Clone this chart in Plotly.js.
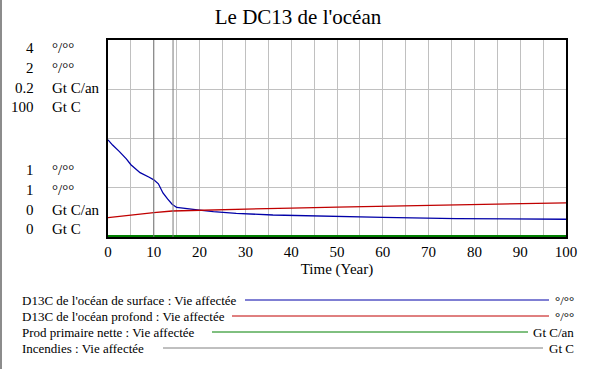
<!DOCTYPE html>
<html><head><meta charset="utf-8">
<script src="https://cdn.plot.ly/plotly-3.0.1.min.js"></script>
<style>
html,body{margin:0;padding:0;background:#fff;}
#chart{width:593px;height:369px;}
#edge{position:absolute;left:0;top:0;width:2px;height:369px;background:#8c8c8c;}
#chart text{font-family:"Liberation Serif","DejaVu Serif",serif !important;}
</style>
</head><body>
<div id="chart"></div><div id="edge"></div>
<script>
// ---- data ----
const surfaceT = [0, 1, 2.5, 4, 5, 7, 9, 10, 11, 12, 13, 14, 15, 17, 20, 23, 28, 36, 48, 60, 76, 92, 100];
const surfaceD13C = [2.48, 2.40, 2.30, 2.19, 2.10, 1.98, 1.91, 1.87, 1.81, 1.67, 1.58, 1.50, 1.45, 1.43, 1.41, 1.385, 1.36, 1.335, 1.315, 1.30, 1.28, 1.27, 1.27];
const deepT = [0, 5, 10, 14, 20, 25, 30, 40, 50, 60, 70, 80, 90, 100];
const deepD13C = [1.098, 1.112, 1.124, 1.132, 1.136, 1.140, 1.142, 1.147, 1.152, 1.156, 1.161, 1.165, 1.167, 1.173];
const prodT = [0, 100];
const prodPrimaire = [0, 0];
const fireT = [0, 100];
const incendies = [0, 0];
const markerTimes = [10, 14.2];

const seriesNames = ["D13C de l'océan de surface : Vie affectée", "D13C de l'océan profond : Vie affectée", "Prod primaire nette : Vie affectée", "Incendies : Vie affectée"];
const seriesUnits = ["°/°°", "°/°°", "Gt C/an", "Gt C"];
const seriesColors = ["#0000a8", "#c00000", "#008000", "#808080"];
const scaleTop = ["4", "2", "0.2", "100"];
const scaleBottom = ["1", "1", "0", "0"];
const xTickLabels = ["0","10","20","30","40","50","60","70","80","90","100"];

// ---- layout helpers (pixel -> paper) ----
const L = 108, R = 566, T = 40, B = 237;
const px = v => (v - L) / (R - L);
const py = v => (B - v) / (B - T);
const serif = "Liberation Serif";

const traces = [
  {x: fireT, y: incendies, yaxis: 'y3', mode: 'lines', line: {color: seriesColors[3], width: 4}, name: seriesNames[3]},
  {x: prodT, y: prodPrimaire, yaxis: 'y4', mode: 'lines', line: {color: seriesColors[2], width: 4}, name: seriesNames[2]},
  {x: deepT, y: deepD13C, yaxis: 'y2', mode: 'lines', line: {color: seriesColors[1], width: 1.3}, name: seriesNames[1]},
  {x: surfaceT, y: surfaceD13C, yaxis: 'y', mode: 'lines', line: {color: seriesColors[0], width: 1.3}, name: seriesNames[0]}
];

const annotations = [];
const shapes = [];
const topY = [48, 68, 88, 107];
const botY = [170, 190, 210, 229];
for (let i = 0; i < 4; i++) {
  [[scaleTop[i], topY[i]], [scaleBottom[i], botY[i]]].forEach(([txt, yy]) => {
    annotations.push({text: txt, xref: 'paper', yref: 'paper', x: px(36), y: py(yy), xanchor: 'right', yanchor: 'middle', showarrow: false, font: {family: serif, size: 15, color: '#000'}});
    annotations.push({text: seriesUnits[i], xref: 'paper', yref: 'paper', x: px(50), y: py(yy), xanchor: 'left', yanchor: 'middle', showarrow: false, font: {family: serif, size: 15, color: '#000'}});
  });
}
// legend rows
const legY = [300, 316, 332, 348];
const legLineX0 = [245, 232, 212, 163];
const legLineX1 = [549, 549, 528, 543];
for (let i = 0; i < 4; i++) {
  annotations.push({text: seriesNames[i], xref: 'paper', yref: 'paper', x: px(20), y: py(legY[i]), xanchor: 'left', yanchor: 'middle', showarrow: false, font: {family: serif, size: 13, color: '#000'}});
  annotations.push({text: seriesUnits[i], xref: 'paper', yref: 'paper', x: px(576), y: py(legY[i]), xanchor: 'right', yanchor: 'middle', showarrow: false, font: {family: serif, size: 13, color: '#000'}});
  shapes.push({type: 'line', xref: 'paper', yref: 'paper', x0: px(legLineX0[i]), x1: px(legLineX1[i]), y0: py(legY[i]), y1: py(legY[i]), line: {color: seriesColors[i], width: 1}});
}
markerTimes.forEach(t => shapes.push({type: 'line', xref: 'x', yref: 'paper', x0: t, x1: t, y0: 0, y1: 1, layer: 'above', line: {color: '#7a7a7a', width: 1}}));

const layout = {
  width: 593, height: 369,
  margin: {l: L, r: 593 - R, t: T, b: 369 - B, pad: 0},
  paper_bgcolor: '#fff', plot_bgcolor: '#fff',
  showlegend: false,
  font: {family: serif, color: '#000'},
  title: {text: "Le DC13 de l'océan", x: 298 / 593, xref: 'container', xanchor: 'center', y: 1 - 17 / 369, yref: 'container', yanchor: 'middle', font: {family: serif, size: 21, color: '#000'}},
  xaxis: {range: [0, 100], tickmode: 'array', tickvals: xTickLabels.map(Number), ticktext: xTickLabels, showgrid: true, gridcolor: '#c0c0c0', gridwidth: 1,
          minor: {dtick: 5, tick0: 0, showgrid: true, gridcolor: '#c0c0c0', gridwidth: 1},
          showline: true, mirror: true, linecolor: '#000', linewidth: 2, zeroline: false, ticks: '', layer: 'below traces',
          tickfont: {family: serif, size: 15, color: '#000'},
          title: {text: 'Time (Year)', font: {family: serif, size: 15, color: '#000'}, standoff: 4}},
  yaxis: {range: [1, 4], tick0: 1, dtick: 0.75, showticklabels: false, ticks: '', showgrid: true, gridcolor: '#c0c0c0', gridwidth: 1,
          showline: true, mirror: true, linecolor: '#000', linewidth: 2, zeroline: false, layer: 'below traces', fixedrange: true},
  yaxis2: {range: [1, 2], overlaying: 'y', visible: false},
  yaxis3: {range: [0, 100], overlaying: 'y', visible: false},
  yaxis4: {range: [0, 0.2], overlaying: 'y', visible: false},
  annotations: annotations,
  shapes: shapes
};
Plotly.newPlot('chart', traces, layout, {displayModeBar: false, staticPlot: true});
</script>
</body></html>
